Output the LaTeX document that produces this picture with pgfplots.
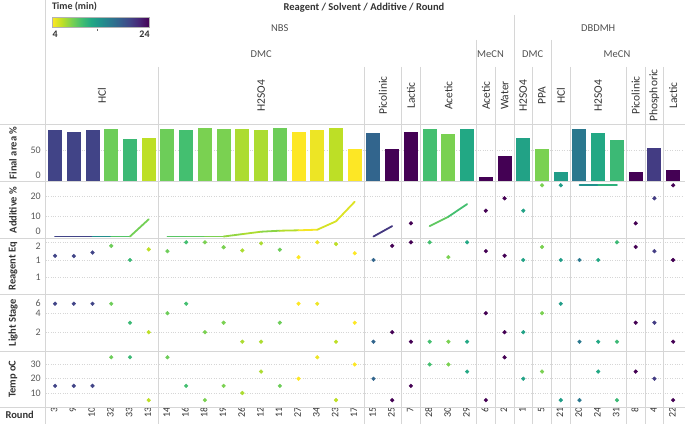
\documentclass[border=0pt]{standalone}
\usepackage{pgfplots}
\usepackage{pgfplotstable}
\pgfplotsset{compat=1.18}
\usepackage{fontspec}
\setmainfont{Carlito}
\definecolor{sep}{RGB}{214,214,214}
\definecolor{txt}{RGB}{51,51,51}
\definecolor{hdr}{RGB}{80,80,80}
\definecolor{tickc}{RGB}{90,90,90}
\newcommand\hf{\fontsize{10.5}{12}\selectfont}
\newcommand\lf{\fontsize{11.5}{13}\selectfont}
\newcommand\tf{\fontsize{10}{12}\selectfont}
\pgfdeclarehorizontalshading{viridisr}{100bp}{rgb(0bp)=(0.992,0.906,0.145); rgb(25bp)=(0.992,0.906,0.145); rgb(30bp)=(0.741,0.875,0.149); rgb(35bp)=(0.478,0.820,0.318); rgb(40bp)=(0.267,0.749,0.439); rgb(45bp)=(0.133,0.659,0.518); rgb(50bp)=(0.129,0.569,0.549); rgb(55bp)=(0.165,0.471,0.557); rgb(60bp)=(0.208,0.373,0.553); rgb(65bp)=(0.255,0.267,0.529); rgb(70bp)=(0.282,0.141,0.459); rgb(75bp)=(0.267,0.004,0.329); rgb(100bp)=(0.267,0.004,0.329)}
\pgfplotsset{colormap={vir}{rgb255=(253,231,37) rgb255=(189,223,38) rgb255=(122,209,81) rgb255=(68,191,112) rgb255=(34,168,132) rgb255=(33,145,140) rgb255=(42,120,142) rgb255=(53,95,141) rgb255=(65,68,135) rgb255=(72,36,117) rgb255=(68,1,84)}}
% x = column, round, final area %, additive %, reagent eq, light stage, temp oC, time (min)
\pgfplotstableread{
x round area add reag light temp time
0 3 84 0 1.62 5 15 20
1 9 81 0 1.61 5 15 20
2 10 83 0 1.71 5 15 20
3 32 86 0 1.9 5 35 8.5
4 33 69 0 1.5 3 35 10.5
5 13 71 8.6 1.8 2 5 6
6 14 85 0 1.75 4 35 8.5
7 16 83 0 2.0 5 15 10
8 18 87 0 2.0 2 5 8
9 19 85 0 1.86 3 15 8
10 26 86 1.2 1.77 1 10 6.5
11 12 83 2.4 1.97 1 25 6.5
12 11 87 2.9 1.79 3 15 8.5
13 27 80.5 3.1 1.58 5 20 4
14 34 83 3.4 2.0 5 35 4.5
15 23 87 7.6 1.95 1 5 6
16 17 53.5 17.4 1.69 3 30 4
17 15 78 0 1.5 1 20 17.5
18 25 52 5.2 1.9 2 5 24
19 7 81 6.6 2.0 1 15 24
20 28 86 5.2 2.0 1 30 10
21 30 77 9.9 1.58 1 30 8
22 29 86 16.2 2.0 1 25 12
23 6 6.5 12.9 1.75 4 5 24
24 2 41 19.1 1.62 2 35 24
25 1 70 12.9 1.5 2 20 12.5
26 5 52 25.6 1.87 4 25 8
27 21 16 25.6 1.5 5 5 13
28 20 84.5 25.6 1.5 1 5 16
29 24 79.5 25.6 1.5 1 25 12
30 31 68 25.6 2.0 1 5 10.5
31 8 16 6.6 1.87 3 25 24
32 4 54.5 19.1 1.75 3 20 20.5
33 22 18 25.6 1.5 1 5 24
}\data
\pgfplotsset{
  pane/.style={scale only axis, width=636.8pt, xmin=-0.5, xmax=33.5, anchor=south west,
    axis line style={draw=none}, major tick length=0pt, xtick=\empty,
    ymajorgrids, grid style={black!16, dotted, line width=0.5pt},
    yticklabel style={font=\tf, text=tickc, inner sep=0pt, xshift=-4.7pt, /pgf/number format/assume math mode=true},
    colormap name=vir, point meta min=4, point meta max=24, clip=false},
  dots/.style={scatter, only marks, mark=*, mark size=1.9pt, point meta=\thisrow{time},
    scatter/use mapped color={draw=mapped color, fill=mapped color}},
  seg/.style={mesh, line width=1.8pt, line cap=round, point meta=\thisrow{time}},
}
\begin{document}
\begin{tikzpicture}[x=1pt,y=1pt]
\useasboundingbox (0,0) rectangle (685,424);
% ---- Final area %
\begin{axis}[pane, at={(45.7pt,242.5pt)}, height=57pt, ymin=0, ymax=92.5, ytick={50},
  extra y ticks={0}, extra y tick style={grid=none, yticklabel style={yshift=6.5pt}}]
\pgfplotsinvokeforeach{0,...,33}{%
  \pgfplotstablegetelem{#1}{area}\of\data
  \let\va=\pgfplotsretval
  \pgfplotstablegetelem{#1}{time}\of\data
  \pgfmathsetmacro\vc{(\pgfplotsretval-4)*50}%
  \edef\tmp{\noexpand\addplot[ybar, bar width=14pt, bar shift=0pt, color of colormap={\vc}, fill, draw=none] coordinates {(#1,\va)};}%
  \tmp
}
\end{axis}
% ---- Additive %
\begin{axis}[pane, at={(45.7pt,185.8pt)}, height=56.7pt, ymin=-0.85, ymax=27.5, ytick={10,20},
  extra y ticks={0}, extra y tick style={grid=none, yticklabel style={yshift=5.5pt}}]
\addplot[seg, restrict x to domain=-0.1:5.1] table[x=x, y=add] {\data};
\addplot[seg, restrict x to domain=5.9:16.1] table[x=x, y=add] {\data};
\addplot[seg, restrict x to domain=16.9:18.1] table[x=x, y=add] {\data};
\addplot[seg, restrict x to domain=19.9:22.1] table[x=x, y=add] {\data};
\addplot[seg, restrict x to domain=27.9:30.1] table[x=x, y=add] {\data};
\addplot[dots, restrict x to domain=18.9:19.1] table[x=x, y=add] {\data};
\addplot[dots, restrict x to domain=22.9:27.1] table[x=x, y=add] {\data};
\addplot[dots, restrict x to domain=30.9:33.1] table[x=x, y=add] {\data};
\end{axis}
% ---- Reagent Eq
\begin{axis}[pane, at={(45.7pt,129.5pt)}, height=56.3pt, ymin=0.525, ymax=2.116, ytick={1,1.5}, yticklabels={1,1},
  extra y ticks={2}, extra y tick labels={2}, extra y tick style={yticklabel style={yshift=-3.7pt}}]
\addplot[dots] table[x=x, y=reag] {\data};
\end{axis}
% ---- Light Stage
\begin{axis}[pane, at={(45.7pt,73pt)}, height=56.5pt, ymin=0.02, ymax=5.97, ytick={2,4},
  extra y ticks={5.97}, extra y tick labels={6}, extra y tick style={grid=none, yticklabel style={yshift=-8.2pt}}]
\addplot[dots] table[x=x, y=light] {\data};
\end{axis}
% ---- Temp oC
\begin{axis}[pane, at={(45.7pt,16.7pt)}, height=56.3pt, ymin=0, ymax=39.4, ytick={10,20,30},
  xtick={0,...,33}, xticklabels from table={\data}{round},
  xticklabel style={rotate=90, anchor=east, inner sep=0pt, yshift=0.8pt, font=\tf, text=txt}]
\addplot[dots] table[x=x, y=temp] {\data};
\end{axis}
% ---- separators
\begin{scope}[sep, line width=0.8pt]
\foreach \yy in {124.5,181.5,238.2,294.5,351,407.3} \draw (0,424-\yy) -- (685,424-\yy);
\draw (45.7,424) -- (45.7,0);
\foreach \k in {6,17,19,20,24,26,28,31,32,33} \draw (45.7+18.73*\k,424-67) -- (45.7+18.73*\k,0);
\foreach \k in {23,27} \draw (45.7+18.73*\k,424-40) -- (45.7+18.73*\k,0);
\draw (45.7+18.73*25,424-15) -- (45.7+18.73*25,0);
\end{scope}
% ---- headers
\node[font=\bfseries\hf, text=txt] at (364,416) {Reagent / Solvent / Additive / Round};
\node[font=\hf, text=hdr] at (279.8,395.7) {NBS};
\node[font=\hf, text=hdr] at (598.2,395.7) {DBDMH};
\node[font=\hf, text=hdr] at (261.1,369.7) {DMC};
\node[font=\hf, text=hdr] at (490.5,369.7) {MeCN};
\node[font=\hf, text=hdr] at (532.7,369.7) {DMC};
\node[font=\hf, text=hdr] at (617,369.7) {MeCN};
\foreach \xx/\lab in {101.9/HCl, 261.1/H2SO4, 382.8/Picolinic, 410.9/Lactic, 448.4/Acetic, 485.9/Acetic, 504.6/Water, 523.3/H2SO4, 542.0/PPA, 560.8/HCl, 598.2/H2SO4, 635.7/Picolinic, 654.4/Phosphoric, 673.2/Lactic}
  \node[rotate=90, font=\lf, text=txt] at (\xx,328.5) {\lab};
% ---- row labels
\node[rotate=90, font=\bfseries\hf, text=txt] at (13,424-153) {Final area \%};
\node[rotate=90, font=\bfseries\hf, text=txt] at (13,424-210) {Additive \%};
\node[rotate=90, font=\bfseries\hf, text=txt] at (13,424-266.3) {Reagent Eq};
\node[rotate=90, font=\bfseries\hf, text=txt] at (13,424-322.7) {Light Stage};
\node[rotate=90, font=\bfseries\hf, text=txt] at (13,424-379.2) {Temp oC};
\node[anchor=west, font=\bfseries\hf, text=txt] at (2,424-415) {Round};
% ---- colour legend
\node[anchor=west, font=\bfseries\tf, text=txt] at (48.5,417) {Time (min)};
\shade[shading=viridisr] (52.3,424-27.3) rectangle (149.3,424-17.3);
\draw[black!30, line width=0.5pt] (52.3,424-27.3) rectangle (149.3,424-17.3);
\draw[black!60, line width=0.6pt] (97.3,424-28.7) -- (97.3,424-30.7);
\node[anchor=west, font=\bfseries\tf, text=txt, inner sep=0pt] at (52.3,424-34) {4};
\node[anchor=east, font=\bfseries\tf, text=txt, inner sep=0pt] at (149.8,424-34) {24};
\end{tikzpicture}
\end{document}
